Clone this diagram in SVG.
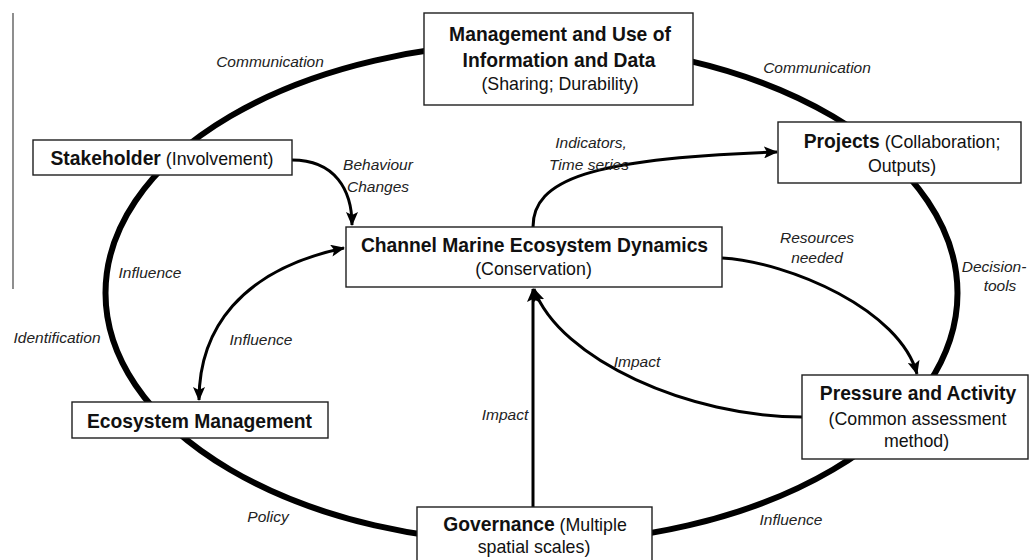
<svg xmlns="http://www.w3.org/2000/svg" width="1029" height="560" viewBox="0 0 1029 560">
  <style>
    .box { fill: #ffffff; stroke: #1e1e1e; stroke-width: 1.4; }
    .ring { fill: none; stroke: #000000; stroke-width: 6; }
    .link { fill: none; stroke: #000000; stroke-width: 3; }
    .t { font-family: "Liberation Sans", Arial, sans-serif; fill: #111111; text-anchor: middle; }
    .b { font-weight: bold; font-size: 19.3px; }
    .r { font-weight: normal; font-size: 17.8px; }
    .lbl { font-family: "Liberation Sans", Arial, sans-serif; font-style: italic; font-size: 15.5px; fill: #222222; text-anchor: middle; }
  </style>
  <defs>
    <marker id="arrow" markerUnits="userSpaceOnUse" markerWidth="14" markerHeight="12" refX="13" refY="6" orient="auto-start-reverse" viewBox="0 0 14 12">
      <path d="M0,0 L14,6 L0,12 L3,6 z" fill="#000000"/>
    </marker>
  </defs>

  <rect width="1029" height="560" fill="#ffffff"/>

  <!-- margin rule at the left edge -->
  <line x1="13" y1="13" x2="13" y2="289" stroke="#444444" stroke-width="1.2"/>

  <!-- outer cycle linking the surrounding themes -->
  <g id="cycle">
    <ellipse class="ring" cx="531.5" cy="293" rx="426" ry="250"/>
  </g>

  <!-- inner connectors -->
  <g id="connectors">
    <path class="link" d="M292 160 C335 160, 352 190, 352 225" marker-end="url(#arrow)"/>
    <path class="link" d="M199 400 C199 330, 240 270, 344 248" marker-start="url(#arrow)" marker-end="url(#arrow)"/>
    <path class="link" d="M533 227 C533 180, 590 158, 777 152" marker-end="url(#arrow)"/>
    <path class="link" d="M722 258 C790 262, 900 310, 917 374" marker-end="url(#arrow)"/>
    <path class="link" d="M802 417 C690 417, 560 360, 534 289" marker-end="url(#arrow)"/>
    <path class="link" d="M533 507 L533 289" marker-end="url(#arrow)"/>
  </g>

  <!-- connector labels -->
  <g id="labels">
    <text class="lbl" x="270" y="67">Communication</text>
    <text class="lbl" x="817" y="73">Communication</text>
    <text class="lbl" x="378" y="170">Behaviour</text>
    <text class="lbl" x="378" y="192">Changes</text>
    <text class="lbl" x="591" y="148">Indicators,</text>
    <text class="lbl" x="589" y="170">Time series</text>
    <text class="lbl" x="817" y="243">Resources</text>
    <text class="lbl" x="817" y="263">needed</text>
    <text class="lbl" x="994" y="272">Decision-</text>
    <text class="lbl" x="1000" y="291">tools</text>
    <text class="lbl" x="150" y="278">Influence</text>
    <text class="lbl" x="57" y="343">Identification</text>
    <text class="lbl" x="261" y="345">Influence</text>
    <text class="lbl" x="637" y="367">Impact</text>
    <text class="lbl" x="505" y="420">Impact</text>
    <text class="lbl" x="268" y="522">Policy</text>
    <text class="lbl" x="791" y="525">Influence</text>
  </g>

  <!-- nodes -->
  <g id="node-management">
    <rect class="box" x="424" y="13" width="269" height="92"/>
    <text class="t b" x="560" y="41">Management and Use of</text>
    <text class="t b" x="559" y="67">Information and Data</text>
    <text class="t r" x="560" y="90">(Sharing; Durability)</text>
  </g>

  <g id="node-stakeholder">
    <rect class="box" x="33" y="140" width="259" height="35"/>
    <text class="t" x="162" y="165"><tspan class="b">Stakeholder</tspan><tspan class="r"> (Involvement)</tspan></text>
  </g>

  <g id="node-projects">
    <rect class="box" x="778" y="122" width="243" height="61"/>
    <text class="t" x="902" y="148"><tspan class="b">Projects</tspan><tspan class="r"> (Collaboration;</tspan></text>
    <text class="t r" x="902" y="172">Outputs)</text>
  </g>

  <g id="node-dynamics">
    <rect class="box" x="346" y="227" width="376" height="60"/>
    <text class="t b" x="534.5" y="252">Channel Marine Ecosystem Dynamics</text>
    <text class="t r" x="533.5" y="275">(Conservation)</text>
  </g>

  <g id="node-ecosystem-management">
    <rect class="box" x="72" y="402" width="256" height="36"/>
    <text class="t b" x="199.5" y="428">Ecosystem Management</text>
  </g>

  <g id="node-pressure">
    <rect class="box" x="802" y="375" width="226" height="84"/>
    <text class="t b" x="918" y="400">Pressure and Activity</text>
    <text class="t r" x="917.5" y="425">(Common assessment</text>
    <text class="t r" x="916.5" y="447">method)</text>
  </g>

  <g id="node-governance">
    <rect class="box" x="417" y="507" width="235" height="62"/>
    <text class="t" x="535" y="531"><tspan class="b">Governance</tspan><tspan class="r"> (Multiple</tspan></text>
    <text class="t r" x="534" y="553">spatial scales)</text>
  </g>
</svg>
